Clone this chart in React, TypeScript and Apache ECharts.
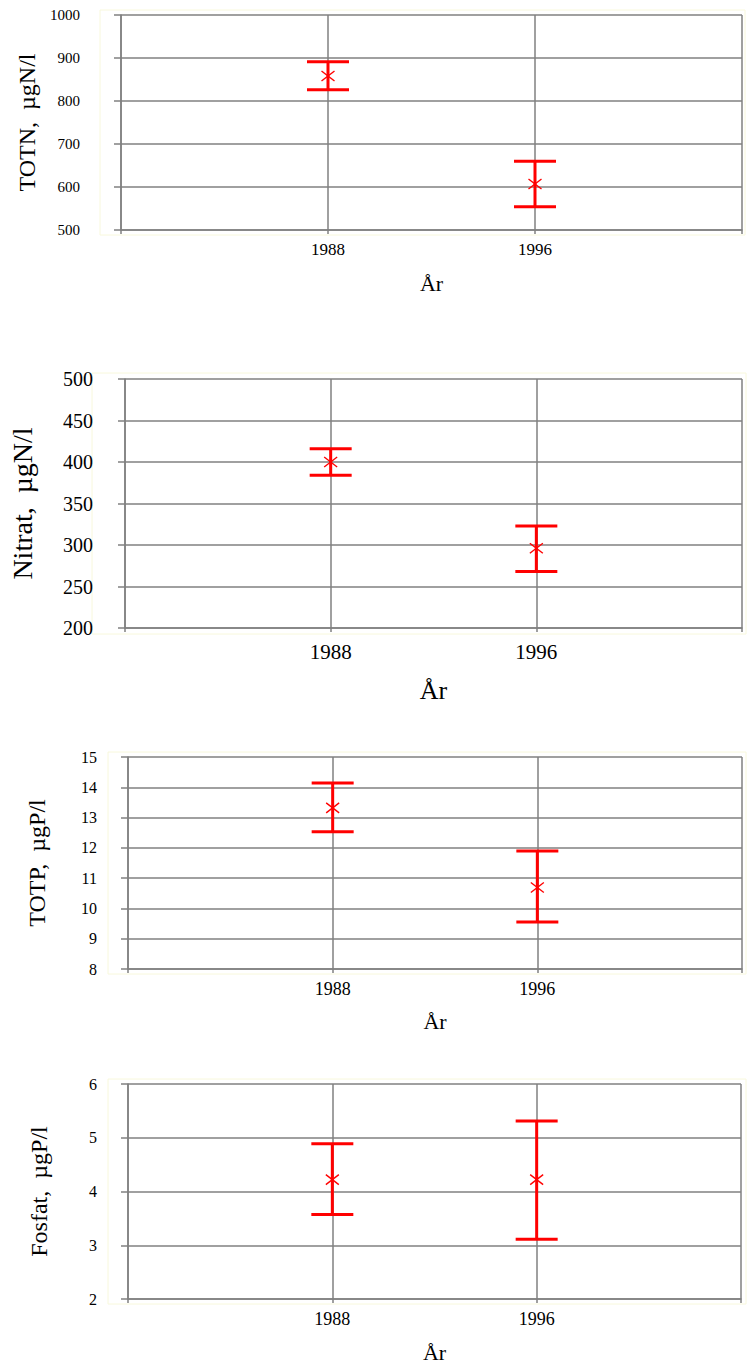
import React, { useEffect, useRef } from "react";
import * as echarts from "echarts";

const categories = ["", "1988", "1996", ""];
const yearIndex = [1, 2];

const totnMean = [858, 607];
const totnLow = [826, 554];
const totnHigh = [891, 660];

const nitratMean = [400, 296];
const nitratLow = [384, 268];
const nitratHigh = [416, 323];

const totpMean = [13.32, 10.69];
const totpLow = [12.53, 9.55];
const totpHigh = [14.14, 11.9];

const fosfatMean = [4.22, 4.22];
const fosfatLow = [3.57, 3.11];
const fosfatHigh = [4.89, 5.31];

const yTitles = ["TOTN,  µgN/l", "Nitrat,  µgN/l", "TOTP,  µgP/l", "Fosfat,  µgP/l"];
const xTitle = "År";
const yRanges = [
  [500, 1000, 100],
  [200, 500, 50],
  [8, 15, 1],
  [2, 6, 1],
];

const serif = "'Liberation Serif', 'Times New Roman', serif";
const RED = "#ff0000";
const GREY = "#808080";

const layouts = [
  { left: 121, top: 15, width: 621, height: 215, yLab: 15, yMargin: 41, xLab: 17, xMargin: 11, title: 24, titleGap: 77, xName: 22, xNameGap: 42, frame: [100, 10, 645, 225] },
  { left: 112, top: 379, width: 630, height: 249, yLab: 20, yMargin: 32, xLab: 21, xMargin: 13, title: 28, titleGap: 89, xName: 26, xNameGap: 49, frame: [92, 373, 654, 261] },
  { left: 128, top: 757, width: 614, height: 212, yLab: 16, yMargin: 31, xLab: 18, xMargin: 11, title: 24, titleGap: 79, xName: 22, xNameGap: 41, frame: [108, 752, 638, 222] },
  { left: 128, top: 1084, width: 613, height: 215, yLab: 16, yMargin: 31, xLab: 18, xMargin: 11, title: 24, titleGap: 77, xName: 22, xNameGap: 42, frame: [108, 1079, 638, 225] },
];

const means = [totnMean, nitratMean, totpMean, fosfatMean];
const lows = [totnLow, nitratLow, totpLow, fosfatLow];
const highs = [totnHigh, nitratHigh, totpHigh, fosfatHigh];

function renderErrorBar(params: any, api: any) {
  const x = api.value(0);
  const pm = api.coord([x, api.value(1)]);
  const pl = api.coord([x, api.value(2)]);
  const ph = api.coord([x, api.value(3)]);
  const cap = 21;
  const thick = { stroke: RED, lineWidth: 3 };
  const thin = { stroke: RED, lineWidth: 1.4 };
  return {
    type: "group",
    children: [
      { type: "line", shape: { x1: pl[0], y1: pl[1], x2: ph[0], y2: ph[1] }, style: thick },
      { type: "line", shape: { x1: pl[0] - cap, y1: pl[1], x2: pl[0] + cap, y2: pl[1] }, style: thick },
      { type: "line", shape: { x1: ph[0] - cap, y1: ph[1], x2: ph[0] + cap, y2: ph[1] }, style: thick },
      { type: "line", shape: { x1: pm[0], y1: pm[1] - 8, x2: pm[0], y2: pm[1] + 8 }, style: thin },
      { type: "line", shape: { x1: pm[0] - 6.5, y1: pm[1] - 5, x2: pm[0] + 6.5, y2: pm[1] + 5 }, style: thin },
      { type: "line", shape: { x1: pm[0] - 6.5, y1: pm[1] + 5, x2: pm[0] + 6.5, y2: pm[1] - 5 }, style: thin },
    ],
  };
}

export default function App() {
  const ref = useRef<HTMLDivElement>(null);
  useEffect(() => {
    if (!ref.current) return;
    const chart = echarts.init(ref.current, undefined, { renderer: "svg" });
    const grids: any[] = [];
    const xAxes: any[] = [];
    const yAxes: any[] = [];
    const series: any[] = [];
    const graphics: any[] = [];
    layouts.forEach((L, i) => {
      grids.push({ left: L.left, top: L.top, width: L.width, height: L.height, containLabel: false });
      graphics.push({
        type: "rect",
        silent: true,
        shape: { x: L.frame[0], y: L.frame[1], width: L.frame[2], height: L.frame[3] },
        style: { fill: "none", stroke: "#f8f8dc", lineWidth: 1 },
      });
      xAxes.push({
        type: "category",
        gridIndex: i,
        data: categories,
        boundaryGap: false,
        name: xTitle,
        nameLocation: "middle",
        nameGap: L.xNameGap,
        nameTextStyle: { fontFamily: serif, fontSize: L.xName, color: "#000" },
        axisLine: { show: true, lineStyle: { color: GREY, width: 1.5 } },
        axisTick: { show: true, length: 4, interval: 0, alignWithLabel: true, lineStyle: { color: GREY, width: 1.5 } },
        axisLabel: { interval: 0, fontFamily: serif, fontSize: L.xLab, color: "#000", margin: L.xMargin },
        splitLine: { show: true, interval: 0, lineStyle: { color: GREY, width: 1.5 } },
      });
      const [mn, mx, step] = yRanges[i];
      yAxes.push({
        type: "value",
        gridIndex: i,
        min: mn,
        max: mx,
        interval: step,
        name: yTitles[i],
        nameLocation: "middle",
        nameGap: L.titleGap,
        nameRotate: 90,
        nameTextStyle: { fontFamily: serif, fontSize: L.title, color: "#000" },
        axisLine: { show: true, lineStyle: { color: GREY, width: 1.5 } },
        axisTick: { show: true, length: 7, lineStyle: { color: GREY, width: 1.5 } },
        axisLabel: {
          fontFamily: serif,
          fontSize: L.yLab,
          color: "#000",
          margin: L.yMargin,
          formatter: (v: number) => String(v),
        },
        splitLine: { show: true, lineStyle: { color: GREY, width: 1.5 } },
      });
      series.push({
        type: "custom",
        xAxisIndex: i,
        yAxisIndex: i,
        renderItem: renderErrorBar,
        encode: { x: 0, y: [1, 2, 3] },
        data: yearIndex.map((idx, k) => [idx, means[i][k], lows[i][k], highs[i][k]]),
        z: 10,
      });
    });
    chart.setOption({
      animation: false,
      backgroundColor: "#ffffff",
      grid: grids,
      xAxis: xAxes,
      yAxis: yAxes,
      series,
      graphic: graphics,
    });
    return () => chart.dispose();
  }, []);
  return (
    <div
      ref={ref}
      style={{ position: "absolute", left: 0, top: 0, width: 747, height: 1367, background: "#fff" }}
    />
  );
}
